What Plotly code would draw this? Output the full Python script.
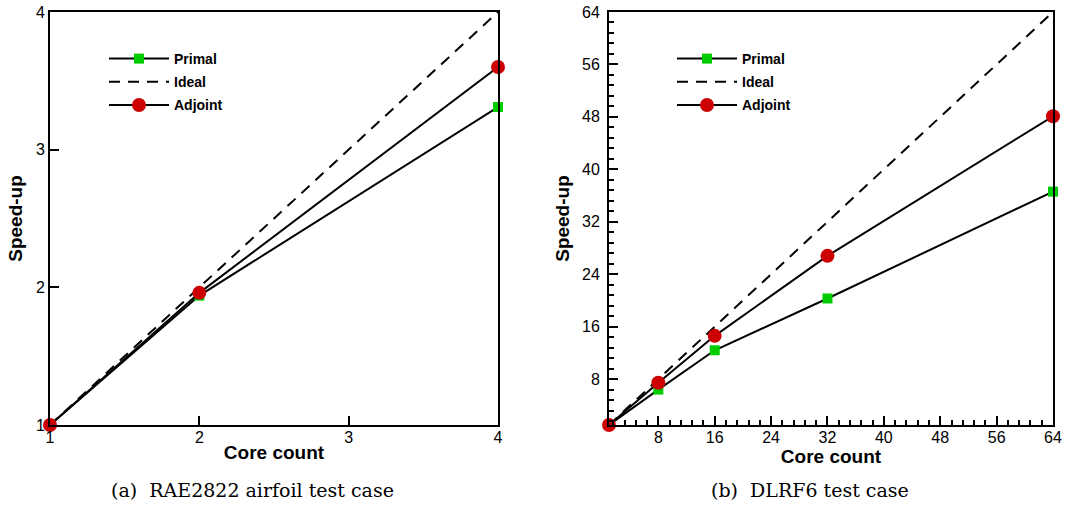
import plotly.graph_objects as go

# Left panel: RAE2822
rae_cores = [1, 2, 4]
rae_primal = [1.0, 1.94, 3.31]
rae_adjoint = [1.0, 1.96, 3.60]
rae_ideal_x = [1, 4]
rae_ideal_y = [1, 4]

# Right panel: DLRF6
dlr_cores = [1, 8, 16, 32, 64]
dlr_primal = [1.0, 6.4, 12.4, 20.3, 36.6]
dlr_adjoint = [1.0, 7.45, 14.6, 26.8, 48.1]
dlr_ideal_x = [1, 64]
dlr_ideal_y = [1, 64]

rae_ticks = [1, 2, 3, 4]
dlr_ticks = [8, 16, 24, 32, 40, 48, 56, 64]

captions = ["(a)  RAE2822 airfoil test case", "(b)  DLRF6 test case"]

GREEN = "#00cc00"
RED = "#cc0000"
SANS = "Liberation Sans, Arial, sans-serif"
SERIF = "DejaVu Serif, Liberation Serif, serif"

fig = go.Figure()

def add_panel(xa, ya, cores, primal, adjoint, ix, iy, legend, tag):
    fig.add_trace(go.Scatter(x=cores, y=primal, name="Primal", mode="lines+markers",
                             line=dict(color="black", width=2),
                             marker=dict(symbol="square", size=10, color=GREEN),
                             legendgroup=tag + "p",
                             xaxis=xa, yaxis=ya, legend=legend, cliponaxis=False))
    fig.add_trace(go.Scatter(x=ix, y=iy, name="Ideal", mode="lines",
                             line=dict(color="black", width=2, dash="11px,8px"),
                             legendgroup=tag + "i",
                             xaxis=xa, yaxis=ya, legend=legend, cliponaxis=False))
    fig.add_trace(go.Scatter(x=cores, y=adjoint, name="Adjoint", mode="lines+markers",
                             line=dict(color="black", width=2),
                             marker=dict(symbol="circle", size=14, color=RED),
                             legendgroup=tag + "a",
                             xaxis=xa, yaxis=ya, legend=legend, cliponaxis=False))

add_panel("x", "y", rae_cores, rae_primal, rae_adjoint, rae_ideal_x, rae_ideal_y, "legend", "l")
add_panel("x2", "y2", dlr_cores, dlr_primal, dlr_adjoint, dlr_ideal_x, dlr_ideal_y, "legend2", "r")

L, R, T, B = 50, 20, 12, 81
W, H = 1073, 506
pw = W - L - R
ph = H - T - B
left_dom = [0, (498 - L) / pw]
right_dom = [(609 - L) / pw, 1]

axis_common = dict(showline=True, linecolor="black", linewidth=2, mirror=True,
                   ticks="inside", ticklen=9, tickwidth=2, tickcolor="black",
                   showgrid=False, zeroline=False, automargin=False,
                   tickfont=dict(family=SANS, size=16, color="black"))
title_font = dict(family=SANS, size=19, color="black", weight="bold")
minor = dict(ticks="inside", ticklen=5, tickwidth=1.5, tickcolor="black", dtick=1.6, tick0=0)

legend_font = dict(family=SANS, size=14, color="black", weight="bold")

fig.update_layout(
    width=W, height=H, margin=dict(l=L, r=R, t=T, b=B, autoexpand=False),
    paper_bgcolor="white", plot_bgcolor="white",
    xaxis=dict(domain=left_dom, range=[1, 4], tickvals=rae_ticks, anchor="y",
               ticklabelstandoff=-3,
               title=dict(text="Core count", font=title_font, standoff=0), **axis_common),
    yaxis=dict(domain=[0, 1], range=[1, 4], tickvals=rae_ticks, anchor="x",
               title=dict(text="Speed-up", font=title_font, standoff=8), **axis_common),
    xaxis2=dict(domain=right_dom, range=[1, 64], tickvals=dlr_ticks, anchor="y2", minor=minor,
                ticklabelstandoff=-3,
                title=dict(text="Core count", font=title_font, standoff=0), **axis_common),
    yaxis2=dict(domain=[0, 1], range=[1, 64], tickvals=dlr_ticks, anchor="x2", minor=minor,
                ticklabelstandoff=4,
                title=dict(text="Speed-up", font=title_font, standoff=7), **axis_common),
    legend=dict(x=(104 - L) / pw, y=1 - (43 - T) / ph, xanchor="left", yanchor="top",
                bgcolor="rgba(0,0,0,0)", font=legend_font,
                tracegroupgap=2, itemwidth=60),
    legend2=dict(x=(672 - L) / pw, y=1 - (43 - T) / ph, xanchor="left", yanchor="top",
                 bgcolor="rgba(0,0,0,0)", font=legend_font,
                 tracegroupgap=2, itemwidth=60),
    showlegend=True,
)

centers = [252, 810]
for cap, cx in zip(captions, centers):
    fig.add_annotation(text=cap, xref="paper", yref="paper",
                       x=(cx - L) / pw, y=-(490 - (H - B)) / ph,
                       xanchor="center", yanchor="middle", showarrow=False,
                       font=dict(family=SERIF, size=19, color="black"))

fig.write_html("out.html", config={"displayModeBar": False},
               post_script="document.body.style.margin='0';document.body.style.overflow='hidden';")
